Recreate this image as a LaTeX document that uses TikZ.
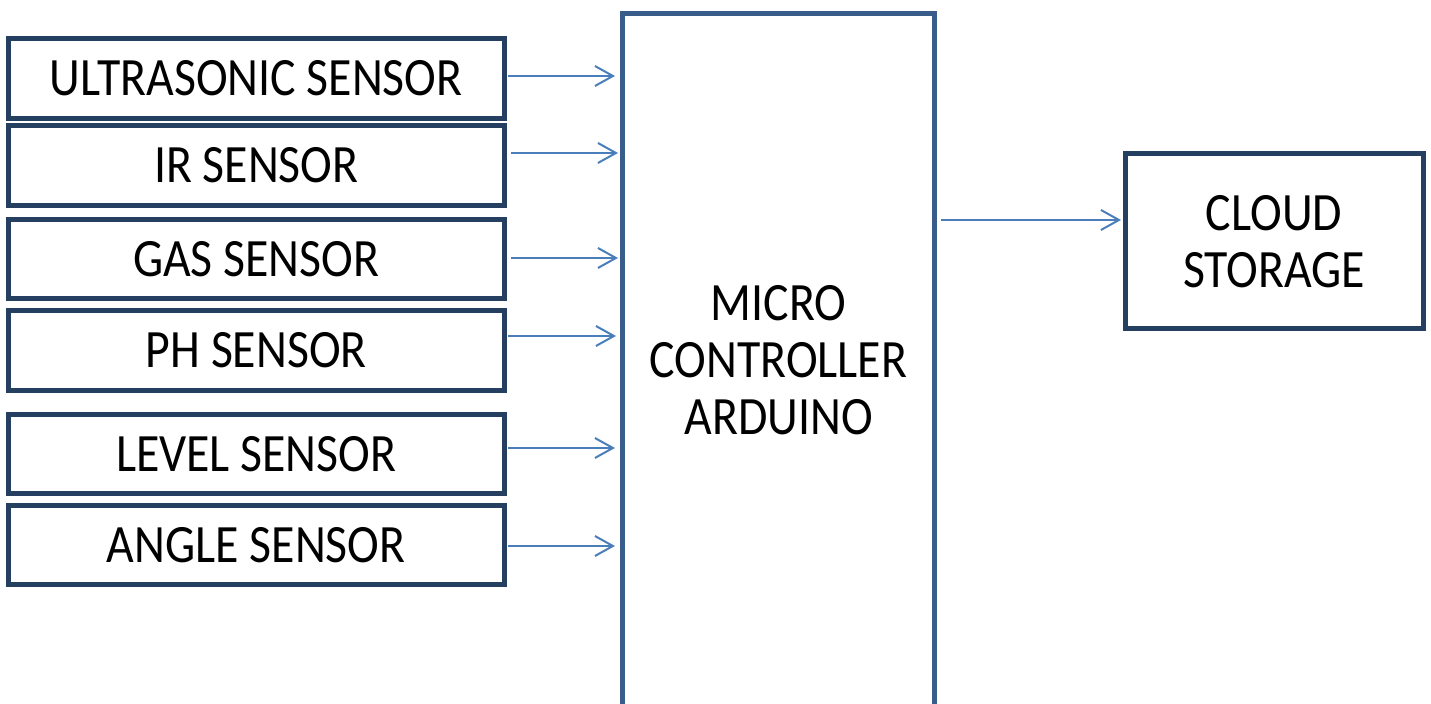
\documentclass[tikz,border=0pt]{standalone}
\usepackage{fontspec}
\setmainfont{Carlito}[FakeStretch=0.885]
\usetikzlibrary{arrows.meta,calc}
\definecolor{navy}{HTML}{243F60}
\definecolor{mcblue}{HTML}{385D8A}
\definecolor{arrblue}{HTML}{4A7EBB}
\begin{document}
\begin{tikzpicture}[x=0.5pt,y=-0.5pt,
  every node/.style={font=\fontsize{27}{28.5}\selectfont, align=center, inner sep=0pt, outer sep=0pt},
  sensor/.style={draw=navy, line width=2.5pt, fill=white, minimum width=247.75pt, minimum height=39.75pt},
  mcbox/.style={draw=mcblue, line width=2.5pt, minimum width=156pt, minimum height=346.5pt},
  cloudbox/.style={draw=navy, line width=2.5pt, minimum width=149pt, minimum height=87.5pt},
  arr/.style={draw=arrblue, line width=1pt, -{Straight Barb[length=9pt,width=10pt,line width=1pt]}}]
\useasboundingbox (0,0) rectangle (1431,704);
\clip (0,0) rectangle (1431,704);
\node[sensor] (s1) at (256.25,78.5) {ULTRASONIC SENSOR};
\node[sensor] (s2) at (256.25,165.5) {IR SENSOR};
\node[sensor] (s3) at (256.25,259) {GAS SENSOR};
\node[sensor] (s4) at (256.25,350.5) {PH SENSOR};
\node[sensor] (s5) at (256.25,454) {LEVEL SENSOR};
\node[sensor] (s6) at (256.25,545) {ANGLE SENSOR};
\node[mcbox] (mc) at (778.5,360) {MICRO\\CONTROLLER\\ARDUINO};
\node[cloudbox] (cloud) at (1274,241.5) {CLOUD\\STORAGE};
\draw[arr] ($(s1.east)+(4,-2.5)$) -- ($(s1.east -| mc.west)+(-7.5,-2.5)$);
\draw[arr] ($(s2.east)+(7,-12.5)$) -- ($(s2.east -| mc.west)+(-4.5,-12.5)$);
\draw[arr] ($(s3.east)+(7,-1)$) -- ($(s3.east -| mc.west)+(-4.5,-1)$);
\draw[arr] ($(s4.east)+(4,-14.5)$) -- ($(s4.east -| mc.west)+(-6.5,-14.5)$);
\draw[arr] ($(s5.east)+(4,-6)$) -- ($(s5.east -| mc.west)+(-7.5,-6)$);
\draw[arr] ($(s6.east)+(4,1)$) -- ($(s6.east -| mc.west)+(-7.5,1)$);
\draw[arr] ($(mc.east)+(6.5,-140)$) -- ($(mc.east -| cloud.west)+(-4,-140)$);
\end{tikzpicture}
\end{document}
